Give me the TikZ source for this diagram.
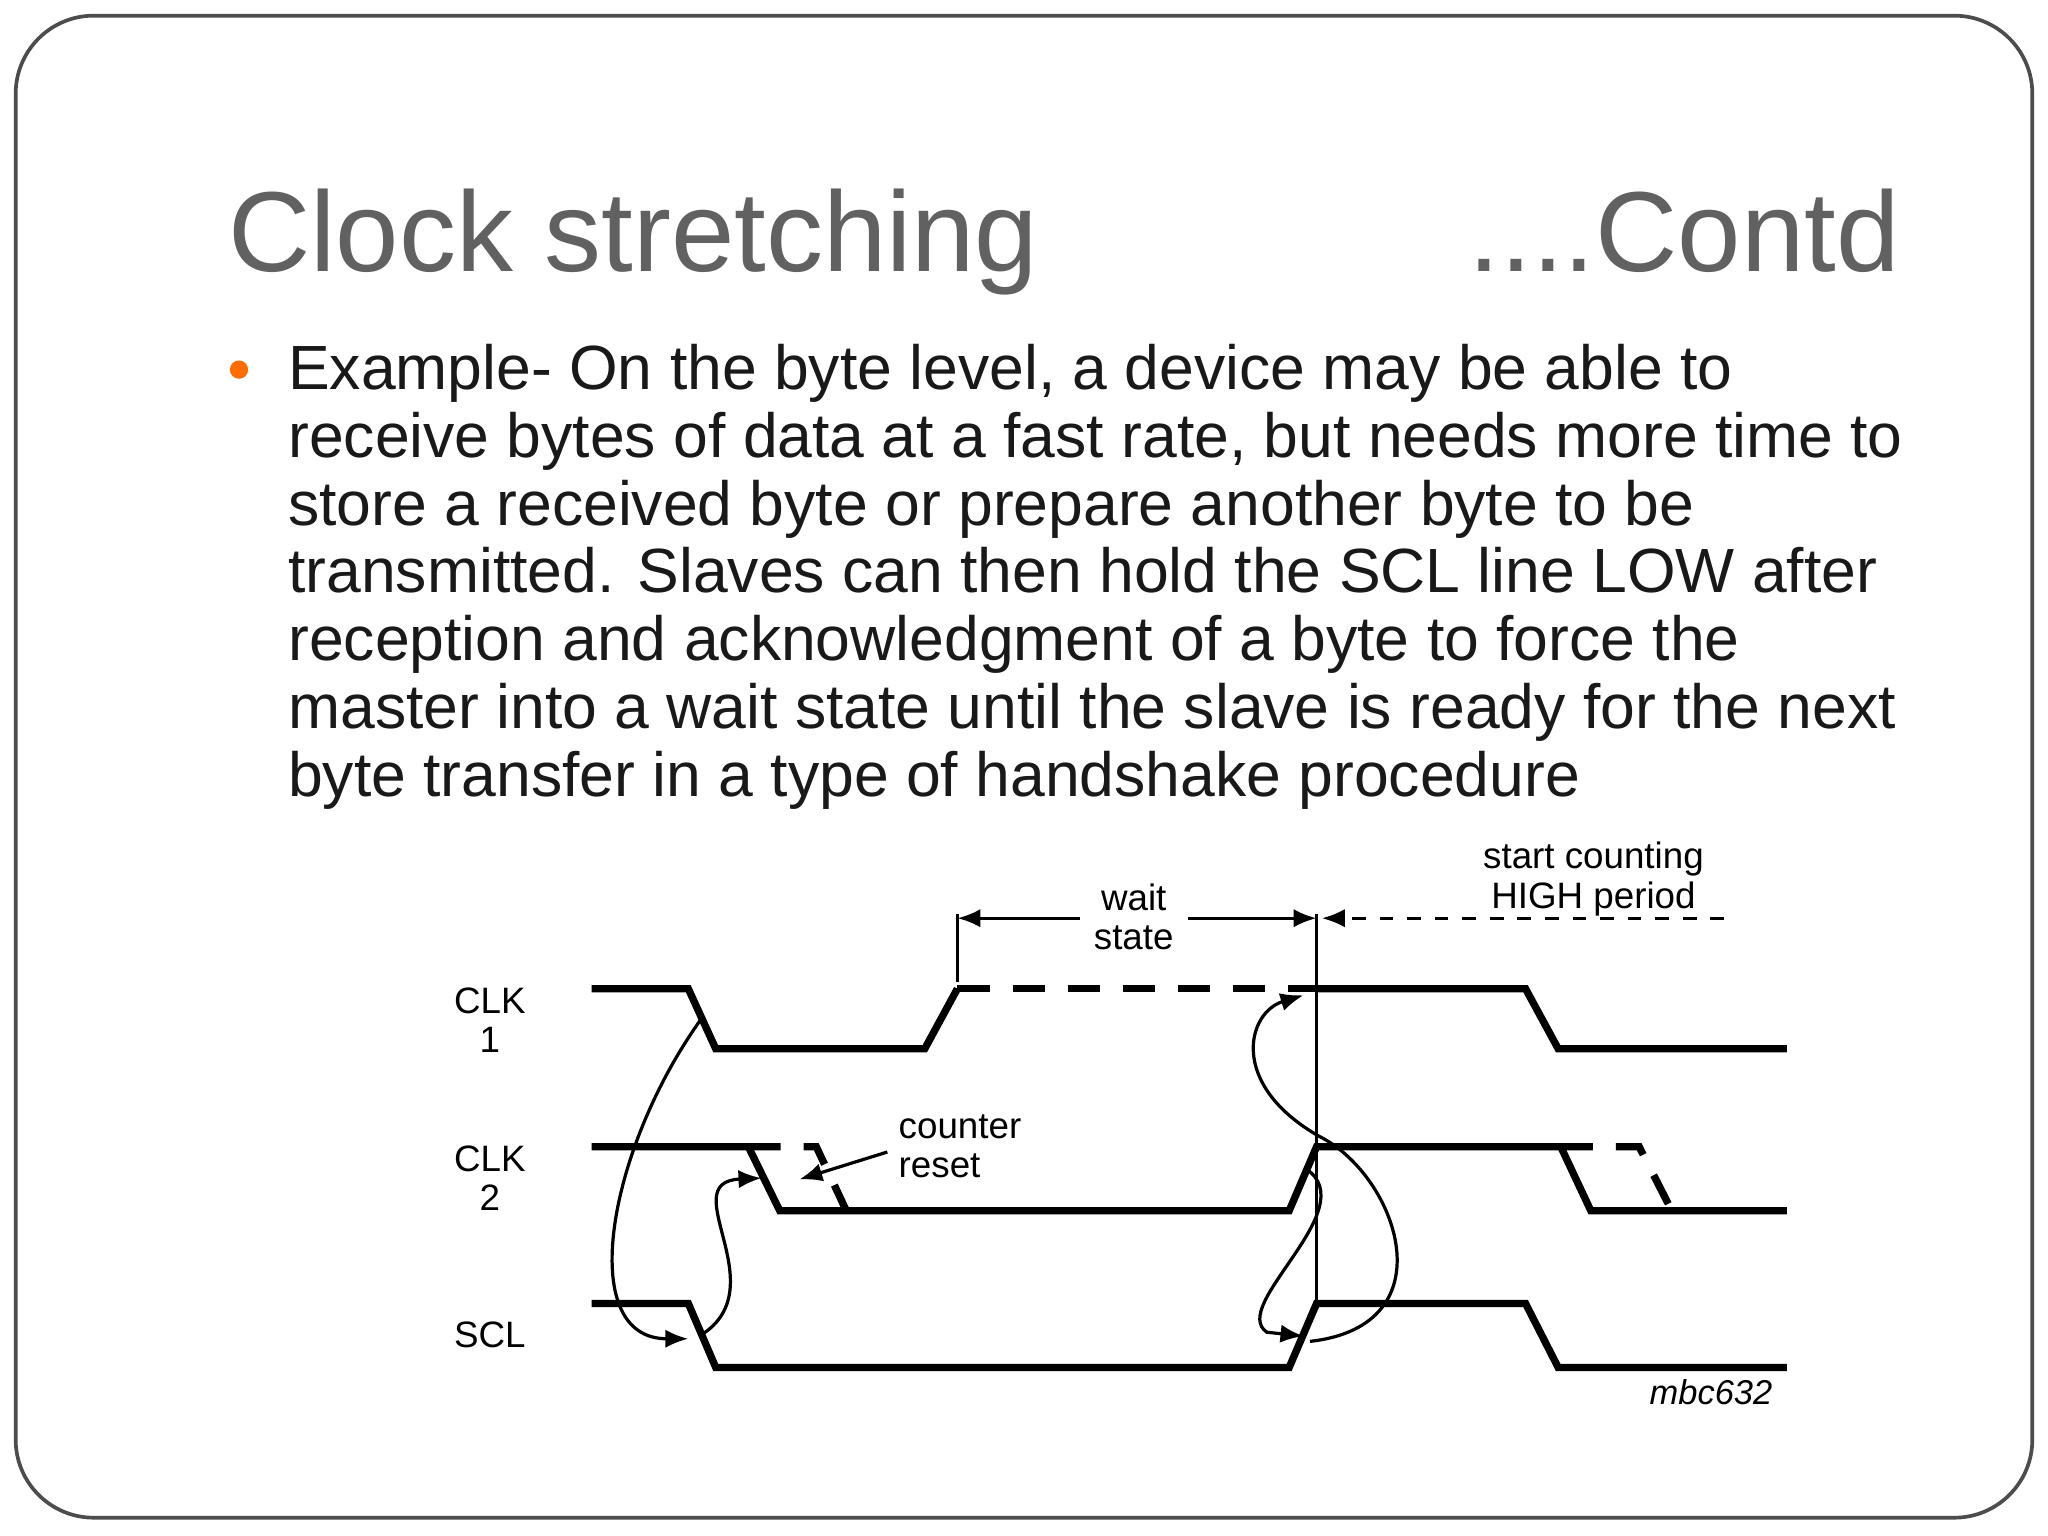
\documentclass[tikz,border=0pt]{standalone}
\usepackage{fontspec}
\setmainfont{Liberation Sans}
\usetikzlibrary{arrows.meta}
\begin{document}
\begin{tikzpicture}[x=0.01cm,y=-0.01cm,
  sig/.style={line width=1.6pt},
  dsig/.style={line width=1.6pt,dash pattern=on 7pt off 5pt},
  thin/.style={line width=0.7pt},
  lab/.style={font=\fontsize{8pt}{8.5pt}\selectfont,align=center,inner sep=0pt},
  body/.style={anchor=base west,inner sep=0pt,font=\fontsize{13.6pt}{14pt}\selectfont,text=black!90},
  tip/.style={-{Latex[length=5pt,width=4pt]}}]
\useasboundingbox (0,0) rectangle (1568,1176);
\draw[line width=0.8pt,black!70,rounded corners=17pt] (12,12) rectangle (1556,1162);
\node[anchor=base west,inner sep=0pt,text=black!62,font=\fontsize{24.8pt}{25pt}\selectfont] (t1) at (174,208) {Clock stretching};
\node[anchor=base east,inner sep=0pt,text=black!62,font=\fontsize{24.8pt}{25pt}\selectfont] (t2) at (1455,208) {....Contd};
\fill[orange!85!red] (183,283) circle (7);
\node[body] (l1) at (220,298) {Example- On the byte level, a device may be able to};
\node[body] (l2) at (220,350) {receive bytes of data at a fast rate, but needs more time to};
\node[body] (l3) at (220,402) {store a received byte or prepare another byte to be};
\node[body] (l4) at (220,454) {transmitted. Slaves can then hold the SCL line LOW after};
\node[body] (l5) at (220,506) {reception and acknowledgment of a byte to force the};
\node[body] (l6) at (220,558) {master into a wait state until the slave is ready for the next};
\node[body] (l7) at (220,610) {byte transfer in a type of handshake procedure};
% labels
\node[lab] (c1) at (375,781) {CLK\\1};
\node[lab] (c2) at (375,902) {CLK\\2};
\node[lab] (scl) at (375,1022) {SCL};
\node[lab] (ws) at (868,702) {wait\\state};
\node[lab] (sc) at (1220,673) {start counting\\HIGH period};
\node[lab,align=left] (cr) at (735,878) {counter\\reset};
\node[lab,font=\fontsize{7.5pt}{7.5pt}\selectfont\itshape] (mb) at (1310,1066) {mbc632};
% coordinates
\coordinate (v1t) at (733,700); \coordinate (v1b) at (733,752);
\coordinate (v2t) at (1008,700); \coordinate (v2b) at (1008,1000);
% signals
\draw[sig] (453,757) -- (527,757) -- (548,803) -- (708,803) -- (733,757);
\draw[dsig] (733,757) -- (1008,757);
\draw[sig] (1008,757) -- (1168,757) -- (1193,803) -- (1368,803);
\draw[sig] (453,878) -- (573,878) -- (597,927) -- (987,927) -- (1008,878) -- (1195,878) -- (1218,927) -- (1368,927);
\draw[dsig] (573,878) -- (625,878) -- (648,927);
\draw[dsig] (1195,878) -- (1255,878) -- (1280,927);
\draw[sig] (453,998) -- (527,998) -- (548,1047) -- (987,1047) -- (1008,998) -- (1168,998) -- (1193,1047) -- (1368,1047);
% markers
\draw[thin] (v1t) -- (v1b);
\draw[thin] (v2t) -- (v2b);
\draw[thin,tip] (ws.west |- 0,703) ++(-10,0) -- (v1t |- 0,703);
\draw[thin,tip] (ws.east |- 0,703) ++(10,0) -- (v2t |- 0,703);
\draw[thin,dashed,tip] (1320,703) -- (1012,703);
\draw[thin,tip] (cr.west) ++(-8,4) -- (612,903);
% causal curves
\draw[thin,tip] (537,780) .. controls (465,880) and (440,1025) .. (527,1025);
\draw[thin,tip] (537,1022) .. controls (595,985) and (515,905) .. (583,902);
\draw[thin,tip] (1000,895) .. controls (1045,925) and (940,1000) .. (970,1020) -- (998,1023);
\draw[thin,tip] (1003,1027) .. controls (1110,1015) and (1070,900) .. (1010,870) .. controls (940,830) and (955,775) .. (998,762);
\end{tikzpicture}
\end{document}
